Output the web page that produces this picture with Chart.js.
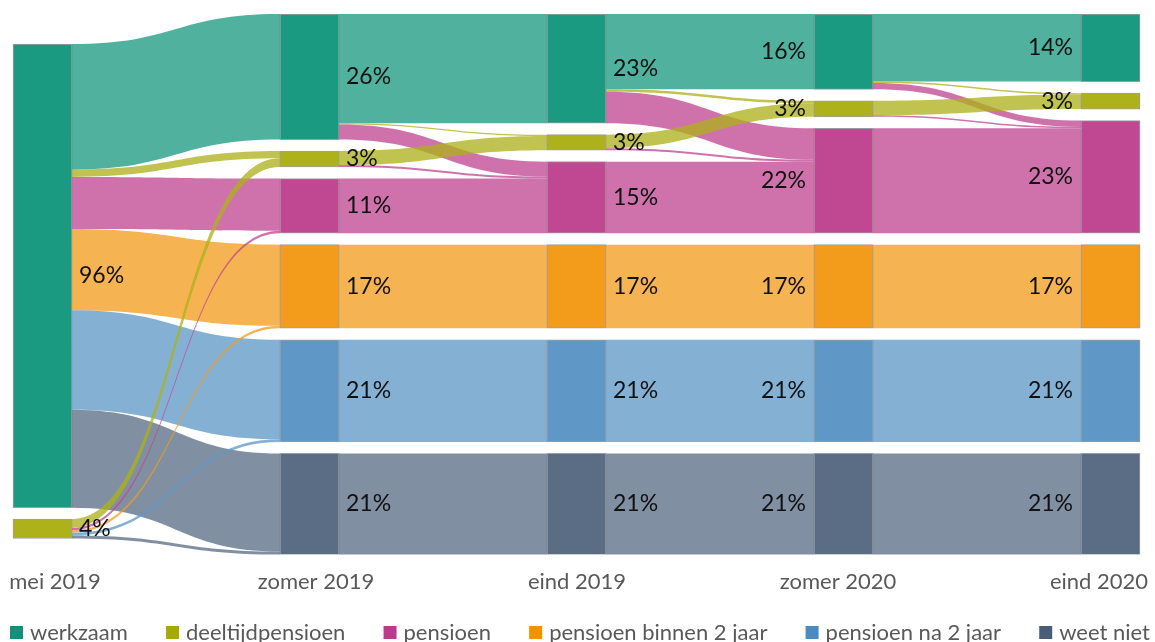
<!DOCTYPE html>
<html><head><meta charset="utf-8">
<script src="https://cdn.jsdelivr.net/npm/chart.js@4.4.1/dist/chart.umd.min.js"></script>
<style>html,body{margin:0;padding:0;background:#fff;overflow:hidden}canvas{display:block}</style>
</head><body>
<canvas id="c" width="1155" height="642"></canvas>
<script>
// ---------- data ----------
const periods = ['mei 2019', 'zomer 2019', 'eind 2019', 'zomer 2020', 'eind 2020'];
const categories = ['werkzaam', 'deeltijdpensioen', 'pensioen', 'pensioen binnen 2 jaar', 'pensioen na 2 jaar', 'weet niet'];
const nodeColors = ['#1a9a81', '#adb11a', '#c04893', '#f39c1c', '#5f98c7', '#5a6d85'];
const legendColors = ['#10917a', '#a6a900', '#bc3a8b', '#f39200', '#4a8bc3', '#475d78'];

// flows: [from category index, to category index, % of respondents]
const flowsMay19ToSummer19 = [
  [0, 0, 26.0], [0, 1, 1.5], [0, 2, 10.8], [0, 3, 16.8], [0, 4, 20.6], [0, 5, 20.3],
  [1, 1, 1.8], [1, 2, 0.5], [1, 3, 0.5], [1, 4, 0.55], [1, 5, 0.65]
];
const flowsSummer19ToEnd19 = [
  [0, 0, 22.6], [0, 1, 0.3], [0, 2, 3.1],
  [1, 1, 2.9], [1, 2, 0.4],
  [2, 2, 11.3], [3, 3, 17.3], [4, 4, 21.15], [5, 5, 20.95]
];
const flowsEnd19ToSummer20 = [
  [0, 0, 15.6], [0, 1, 0.5], [0, 2, 6.5],
  [1, 1, 2.8], [1, 2, 0.4],
  [2, 2, 14.8], [3, 3, 17.3], [4, 4, 21.15], [5, 5, 20.95]
];
const flowsSummer20ToEnd20 = [
  [0, 0, 14.0], [0, 1, 0.3], [0, 2, 1.3],
  [1, 1, 3.0], [1, 2, 0.3],
  [2, 2, 21.7], [3, 3, 17.3], [4, 4, 21.15], [5, 5, 20.95]
];
const transitions = [flowsMay19ToSummer19, flowsSummer19ToEnd19, flowsEnd19ToSummer20, flowsSummer20ToEnd20];

// ---------- layout (value units = % of respondents) ----------
const NODE_GAP = 2.39;
const NODE_WIDTH = 59;
const COL_SHIFT = [1.45, 0, 0, 0, 0];
const FLOW_ALPHA = 0.77;

const nodeValues = periods.map(() => categories.map(() => 0));
transitions.forEach((fl, t) => fl.forEach(([a, b, v]) => {
  if (t === 0) nodeValues[0][a] += v;
  nodeValues[t + 1][b] += v;
}));
const colHeights = nodeValues.map(vals => {
  const n = vals.filter(v => v > 0).length;
  return vals.reduce((s, v) => s + v, 0) + (n - 1) * NODE_GAP;
});
const yMax = Math.max(...colHeights);
const nodePos = nodeValues.map((vals, k) => {
  let y = (yMax - colHeights[k]) / 2 + COL_SHIFT[k];
  return vals.map(v => {
    if (v <= 0) return null;
    const p = { y0: y, y1: y + v, v };
    y += v + NODE_GAP;
    return p;
  });
});
const links = [];
transitions.forEach((fl, t) => {
  const outOff = categories.map(() => 0), inOff = categories.map(() => 0);
  const ls = fl.map(([a, b, v]) => ({ t, a, b, v }));
  [...ls].sort((p, q) => p.b - q.b).forEach(l => { l.sy = nodePos[t][l.a].y0 + outOff[l.a]; outOff[l.a] += l.v; });
  [...ls].sort((p, q) => p.a - q.a).forEach(l => { l.ty = nodePos[t + 1][l.b].y0 + inOff[l.b]; inOff[l.b] += l.v; });
  ls.sort((p, q) => p.a - q.a || p.b - q.b).forEach(l => links.push(l));
});

function hexA(hex, a) {
  const n = parseInt(hex.slice(1), 16);
  return `rgba(${n >> 16},${(n >> 8) & 255},${n & 255},${a})`;
}

const FONT = 'Lato, "Open Sans", sans-serif';

const flowPlugin = {
  id: 'flows',
  beforeDatasetsDraw(chart) {
    const { ctx, scales: { xn, y } } = chart;
    ctx.save();
    links.forEach(l => {
      const x0 = xn.getPixelForValue(l.t) + NODE_WIDTH / 2;
      const x1 = xn.getPixelForValue(l.t + 1) - NODE_WIDTH / 2;
      const xm = (x0 + x1) / 2;
      const s0 = y.getPixelForValue(l.sy), s1 = y.getPixelForValue(l.sy + l.v);
      const t0 = y.getPixelForValue(l.ty), t1 = y.getPixelForValue(l.ty + l.v);
      ctx.beginPath();
      ctx.moveTo(x0, s0);
      ctx.bezierCurveTo(xm, s0, xm, t0, x1, t0);
      ctx.lineTo(x1, t1);
      ctx.bezierCurveTo(xm, t1, xm, s1, x0, s1);
      ctx.closePath();
      ctx.fillStyle = hexA(nodeColors[l.b], FLOW_ALPHA);
      ctx.fill();
    });
    ctx.restore();
  },
  afterDatasetsDraw(chart) {
    const { ctx, scales: { xn, y } } = chart;
    ctx.save();
    ctx.font = '23px ' + FONT;
    ctx.fillStyle = '#111';
    ctx.textBaseline = 'middle';
    nodePos.forEach((col, k) => col.forEach(p => {
      if (!p) return;
      const cx = xn.getPixelForValue(k);
      const cy = y.getPixelForValue((p.y0 + p.y1) / 2);
      const txt = Math.round(p.v) + '%';
      if (k < 3) { ctx.textAlign = 'left'; ctx.fillText(txt, cx + NODE_WIDTH / 2 + 7, cy); }
      else { ctx.textAlign = 'right'; ctx.fillText(txt, cx - NODE_WIDTH / 2 - 8, cy); }
    }));
    ctx.restore();
  },
  afterDraw(chart) {
    const { ctx } = chart;
    ctx.save();
    ctx.font = '22px ' + FONT;
    ctx.textBaseline = 'middle';
    ctx.textAlign = 'left';
    const box = 13, boxGap = 7, left = 10, right = 1150;
    const widths = categories.map(c => box + boxGap + ctx.measureText(c).width);
    const gap = (right - left - widths.reduce((s, w) => s + w, 0)) / (categories.length - 1);
    let x = left;
    categories.forEach((c, i) => {
      ctx.fillStyle = legendColors[i];
      ctx.fillRect(x, 626, box, box);
      ctx.fillStyle = '#595959';
      ctx.fillText(c, x + box + boxGap, 633);
      x += widths[i] + gap;
    });
    ctx.restore();
  }
};

new Chart(document.getElementById('c'), {
  type: 'bar',
  data: {
    datasets: categories.map((cat, ci) => ({
      label: cat,
      data: periods.map((p, k) => nodePos[k][ci] ? { x: k, y: [nodePos[k][ci].y0, nodePos[k][ci].y1] } : null).filter(Boolean),
      backgroundColor: nodeColors[ci],
      borderColor: 'rgba(0,0,0,0.38)',
      borderWidth: 1,
      borderSkipped: false,
      barThickness: NODE_WIDTH,
      grouped: false,
      xAxisID: 'xn',
      yAxisID: 'y'
    }))
  },
  options: {
    responsive: false,
    animation: false,
    devicePixelRatio: 1,
    layout: { padding: { top: 14, left: 10, right: 7, bottom: 33 } },
    scales: {
      xn: { type: 'linear', axis: 'x', display: false, offset: false, min: -0.1217, max: 4.1403 },
      x: {
        type: 'linear', axis: 'x', position: 'bottom', offset: false, min: -0.1724, max: 4.1877,
        grid: { display: false, drawTicks: false, offset: false }, border: { display: false },
        afterBuildTicks: s => { s.ticks = periods.map((p, i) => ({ value: i })); },
        afterFit: s => { s.paddingLeft = 0; s.paddingRight = 0; },
        ticks: {
          autoSkip: false, maxRotation: 0, padding: 14,
          color: '#595959', font: { family: FONT, size: 22 },
          callback: v => periods[v] ?? ''
        }
      },
      y: { type: 'linear', display: false, reverse: true, min: 0, max: yMax }
    },
    plugins: { legend: { display: false }, tooltip: { enabled: false } }
  },
  plugins: [flowPlugin]
});
</script>
</body></html>
